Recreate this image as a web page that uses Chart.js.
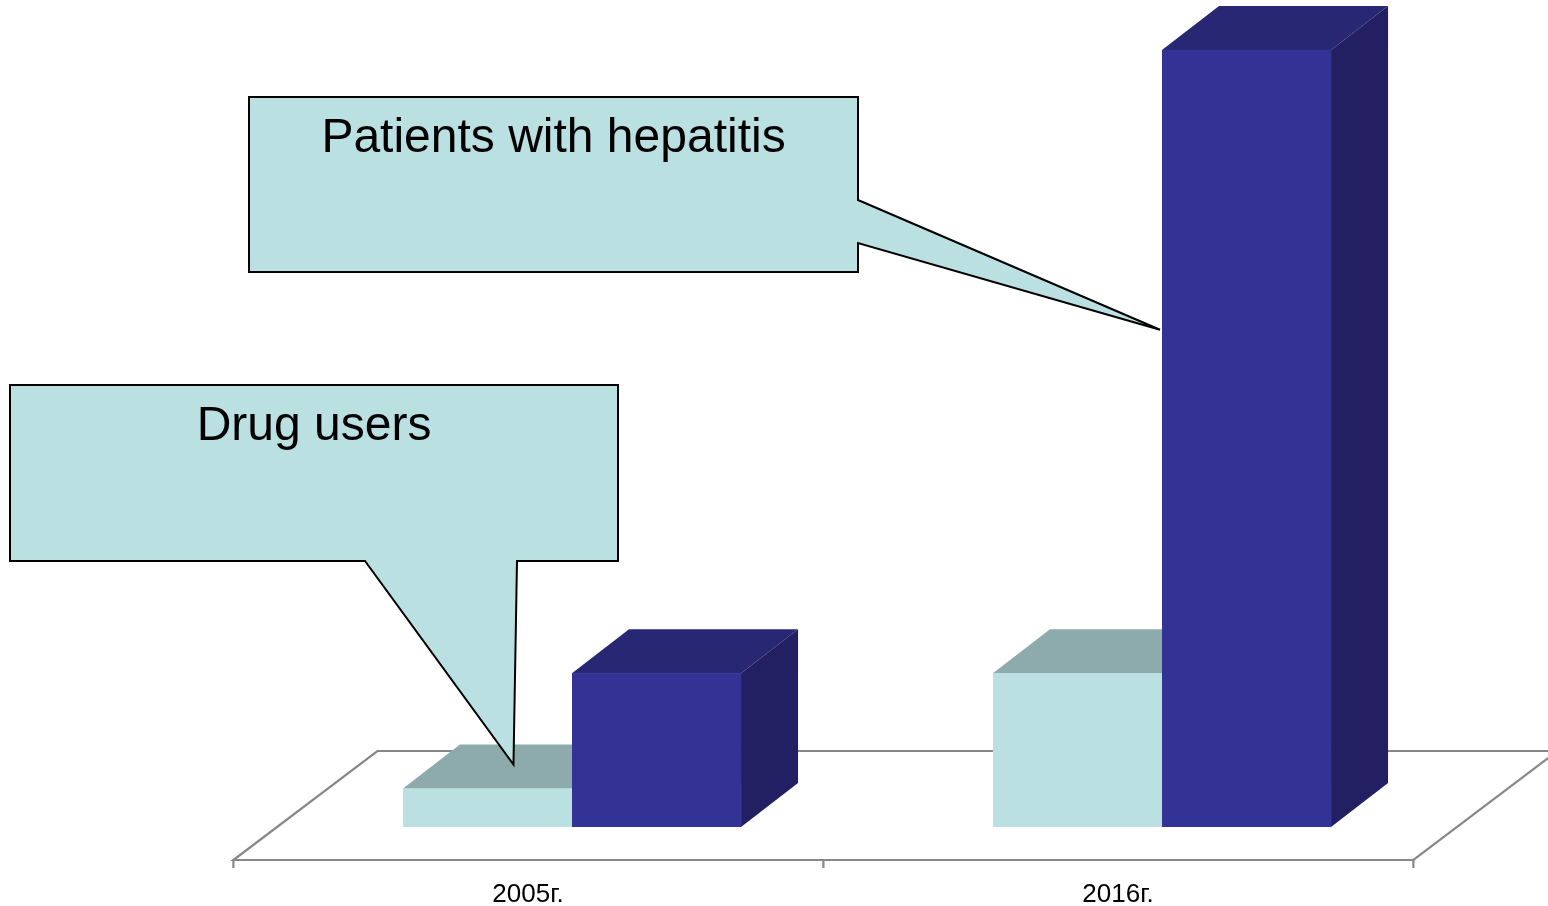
<!DOCTYPE html>
<html>
<head>
<meta charset="utf-8">
<title>Drug users and patients with hepatitis</title>
<script src="https://cdn.jsdelivr.net/npm/chart.js@4.4.1/dist/chart.umd.min.js"></script>
<style>
  html, body { margin: 0; padding: 0; background: #fff; }
  #wrap { position: relative; width: 1548px; height: 906px; }
</style>
</head>
<body>
<div id="wrap"><canvas id="chart"></canvas></div>
<script>
const years = ['2005г.', '2016г.'];
const drugUsers = [25, 100];
const hepatitisPatients = [100, 505];
const seriesNames = ['Drug users', 'Patients with hepatitis'];

const FONT = '"Liberation Sans", Arial, sans-serif';

// depth of the bar boxes, and of the floor slab they stand on
const BAR_DX = 57, BAR_DY = 44;
const FLOOR_FRONT = 33, FLOOR_BACK = 76, FLOOR_SLOPE = 144 / 109;

// floor outline under the bars, then each bar as a box (top, side, front)
const box3d = {
  id: 'box3d',
  beforeDatasetsDraw(chart) {
    const { ctx, chartArea, scales } = chart;
    const base = scales.y.getPixelForValue(0);
    const frontY = base + FLOOR_FRONT, backY = base - FLOOR_BACK;
    const shift = FLOOR_FRONT * FLOOR_SLOPE;
    const left = chartArea.left - shift, right = chartArea.right - shift;
    const run = (FLOOR_FRONT + FLOOR_BACK) * FLOOR_SLOPE;
    const step = (chartArea.right - chartArea.left) / years.length;

    ctx.save();
    ctx.strokeStyle = '#888888';
    ctx.lineWidth = 2.2;
    ctx.beginPath();
    ctx.moveTo(left, frontY);
    ctx.lineTo(right, frontY);
    ctx.lineTo(right + run, backY);
    ctx.lineTo(left + run, backY);
    ctx.closePath();
    for (let i = 0; i <= years.length; i++) {
      ctx.moveTo(left + i * step, frontY);
      ctx.lineTo(left + i * step, frontY + 8);
    }
    ctx.stroke();
    ctx.restore();
  },
  afterDatasetsDraw(chart) {
    const ctx = chart.ctx;
    ctx.save();
    // left to right, so a right-hand bar hides the side of its neighbour
    chart.data.datasets.forEach((ds, i) => {
      chart.getDatasetMeta(i).data.forEach(bar => {
        const { x, y, base, width } = bar.getProps(['x', 'y', 'base', 'width'], true);
        const l = x - width / 2, r = x + width / 2;

        ctx.fillStyle = ds.topColor;
        ctx.beginPath();
        ctx.moveTo(l, y);
        ctx.lineTo(l + BAR_DX, y - BAR_DY);
        ctx.lineTo(r + BAR_DX, y - BAR_DY);
        ctx.lineTo(r, y);
        ctx.closePath();
        ctx.fill();

        ctx.fillStyle = ds.sideColor;
        ctx.beginPath();
        ctx.moveTo(r, y);
        ctx.lineTo(r + BAR_DX, y - BAR_DY);
        ctx.lineTo(r + BAR_DX, base - BAR_DY);
        ctx.lineTo(r, base);
        ctx.closePath();
        ctx.fill();

        bar.draw(ctx);
      });
    });
    ctx.restore();
  }
};

function drawCallout(ctx, box, pointer, tip, text) {
  const x2 = box.x + box.w, y2 = box.y + box.h;
  ctx.beginPath();
  ctx.moveTo(box.x, box.y);
  ctx.lineTo(x2, box.y);
  if (pointer.side === 'right') {
    ctx.lineTo(x2, pointer.a);
    ctx.lineTo(tip.x, tip.y);
    ctx.lineTo(x2, pointer.b);
    ctx.lineTo(x2, y2);
    ctx.lineTo(box.x, y2);
  } else {
    ctx.lineTo(x2, y2);
    ctx.lineTo(pointer.b, y2);
    ctx.lineTo(tip.x, tip.y);
    ctx.lineTo(pointer.a, y2);
    ctx.lineTo(box.x, y2);
  }
  ctx.closePath();
  ctx.fillStyle = '#bae0e2';
  ctx.fill();
  ctx.lineWidth = 2;
  ctx.lineJoin = 'miter';
  ctx.strokeStyle = '#000';
  ctx.stroke();

  ctx.fillStyle = '#000';
  ctx.font = '48px ' + FONT;
  ctx.textAlign = 'center';
  ctx.textBaseline = 'alphabetic';
  ctx.fillText(text, box.x + box.w / 2, box.y + 55);
}

// speech-bubble labels pointing at one bar of each series
const callouts = {
  id: 'callouts',
  afterDraw(chart) {
    const ctx = chart.ctx;
    const drug = chart.getDatasetMeta(0).data[0];
    const hep = chart.getDatasetMeta(1).data[1];
    ctx.save();
    drawCallout(ctx,
      { x: 249, y: 97, w: 609, h: 175 },
      { side: 'right', a: 200, b: 243 },
      { x: hep.x - hep.width / 2 - 2, y: hep.y + (hep.base - hep.y) * 0.36 },
      seriesNames[1]);
    drawCallout(ctx,
      { x: 10, y: 385, w: 608, h: 176 },
      { side: 'bottom', a: 365, b: 517 },
      { x: drug.x + 26, y: drug.y - 24 },
      seriesNames[0]);
    ctx.restore();
  }
};

new Chart(document.getElementById('chart'), {
  type: 'bar',
  data: {
    labels: years,
    datasets: [
      {
        label: seriesNames[0],
        data: drugUsers,
        backgroundColor: '#bae0e2',
        topColor: '#8daaac',
        sideColor: '#7e9a9c'
      },
      {
        label: seriesNames[1],
        data: hepatitisPatients,
        backgroundColor: '#333396',
        topColor: '#272773',
        sideColor: '#221f62'
      }
    ]
  },
  options: {
    responsive: true,
    maintainAspectRatio: false,
    animation: false,
    layout: { padding: { left: 277, right: 91, top: 50, bottom: 0 } },
    datasets: { bar: { categoryPercentage: 0.573, barPercentage: 1, borderWidth: 0 } },
    plugins: {
      legend: { display: false },
      tooltip: { enabled: false }
    },
    scales: {
      x: {
        grid: { display: false, drawTicks: false },
        border: { display: false },
        ticks: {
          color: '#000',
          font: { family: FONT, size: 26 },
          padding: 52,
          labelOffset: -44
        },
        afterFit(scale) {
          scale.height = 79;
        }
      },
      y: { display: false, min: 0, max: 505 }
    }
  },
  plugins: [box3d, callouts]
});
</script>
</body>
</html>
